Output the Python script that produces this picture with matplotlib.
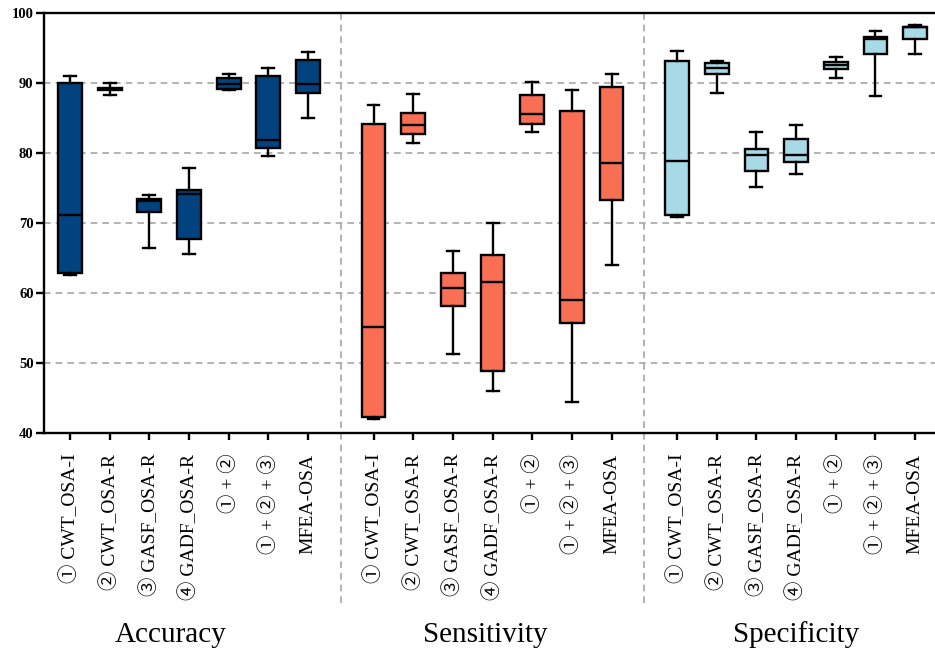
import numpy as np
import matplotlib
matplotlib.use("Agg")
import matplotlib.pyplot as plt
import matplotlib.transforms as mtransforms

# ── Data ─────────────────────────────────────────────────────────────────────
METHODS = ["① CWT_OSA-I", "② CWT_OSA-R", "③ GASF_OSA-R", "④ GADF_OSA-R",
           "① + ②", "① + ② + ③", "MFEA-OSA"]
METRICS = ["Accuracy", "Sensitivity", "Specificity"]

# five-number summaries per method: [whislo, q1, med, q3, whishi]
acc_stats = [
    [62.6, 62.8, 71.1, 90.0, 91.0],
    [88.3, 89.0, 89.15, 89.3, 90.0],
    [66.4, 71.6, 73.1, 73.4, 73.95],
    [65.5, 67.7, 74.2, 74.7, 77.9],
    [89.05, 89.15, 89.9, 90.7, 91.3],
    [79.5, 80.7, 81.9, 90.95, 92.1],
    [84.95, 88.6, 89.9, 93.3, 94.4],
]
sen_stats = [
    [42.0, 42.3, 55.1, 84.2, 86.85],
    [81.4, 82.75, 84.05, 85.7, 88.4],
    [51.3, 58.2, 60.7, 62.85, 66.05],
    [45.95, 48.9, 61.5, 65.4, 70.05],
    [83.0, 84.15, 85.55, 88.35, 90.2],
    [44.35, 55.7, 58.95, 85.95, 89.05],
    [64.0, 73.3, 78.6, 89.45, 91.35],
]
spe_stats = [
    [70.8, 71.2, 78.9, 93.2, 94.6],
    [88.6, 91.25, 92.1, 92.85, 93.15],
    [75.2, 77.4, 79.65, 80.6, 83.0],
    [77.05, 78.7, 79.65, 82.0, 84.05],
    [90.7, 91.95, 92.5, 93.05, 93.75],
    [88.2, 94.15, 96.35, 96.6, 97.4],
    [94.2, 96.25, 97.95, 98.05, 98.3],
]
ALL_STATS = [acc_stats, sen_stats, spe_stats]

# ── Style ────────────────────────────────────────────────────────────────────
COLORS = ["#02437F", "#F96F53", "#A8D9E6"]
GRID_C = "#A5A5A5"
SERIF = ["Liberation Serif", "Noto Sans CJK SC"]
STRIDE = 7.65   # spacing between group starts
LW = 1.7

plt.rcParams.update({
    "font.family": SERIF,
    "axes.linewidth": LW,
    "xtick.major.width": LW,
    "ytick.major.width": LW,
})

fig = plt.figure(figsize=(9.35, 6.5), dpi=100)
ax = fig.add_axes([0.047, 0.334, 0.953, 0.646])

ticks, ticklabels = [], []
for g, (stats, color) in enumerate(zip(ALL_STATS, COLORS)):
    pos = [g * STRIDE + i for i in range(len(METHODS))]
    bxp_stats = [dict(whislo=s[0], q1=s[1], med=s[2], q3=s[3], whishi=s[4],
                      fliers=[]) for s in stats]
    ax.bxp(bxp_stats, positions=pos, widths=0.6, patch_artist=True,
           showfliers=False,
           boxprops=dict(facecolor=color, edgecolor="black", linewidth=LW),
           medianprops=dict(color="black", linewidth=LW),
           whiskerprops=dict(color="black", linewidth=LW),
           capprops=dict(color="black", linewidth=LW))
    ticks += pos
    ticklabels += METHODS

# horizontal grid
for y in [50, 60, 70, 80, 90]:
    ax.axhline(y, color=GRID_C, linestyle=(0, (4, 3)), linewidth=1.2, zorder=0)

# group separators running down into the label area
trans = mtransforms.blended_transform_factory(ax.transData, fig.transFigure)
for g in range(1, len(METRICS)):
    xs = g * STRIDE - (STRIDE - 6) / 2
    ax.plot([xs, xs], [0.98, 0.066], transform=trans, color=GRID_C,
            linestyle=(0, (4, 3)), linewidth=1.2, clip_on=False, zorder=0)

# group titles
title_x = [2.55, 10.46, 18.3]
for name, x in zip(METRICS, title_x):
    fig.text(x, 0.012, name, transform=trans, ha="center", va="baseline",
             fontsize=21, family=SERIF)

ax.set_xlim(-0.655, 21.8)
ax.set_ylim(40, 100)
ax.set_yticks([40, 50, 60, 70, 80, 90, 100])
ax.set_xticks(ticks)
ax.set_xticklabels(ticklabels, rotation=90, fontsize=14, va="top", ha="center")
ax.tick_params(axis="x", length=5, pad=10)
ax.tick_params(axis="y", length=6, pad=1.5, labelsize=10.5)
for lab in ax.get_yticklabels():
    lab.set_fontweight("bold")
ax.spines["right"].set_visible(False)

fig.savefig("out.png", dpi=100, facecolor="white")
